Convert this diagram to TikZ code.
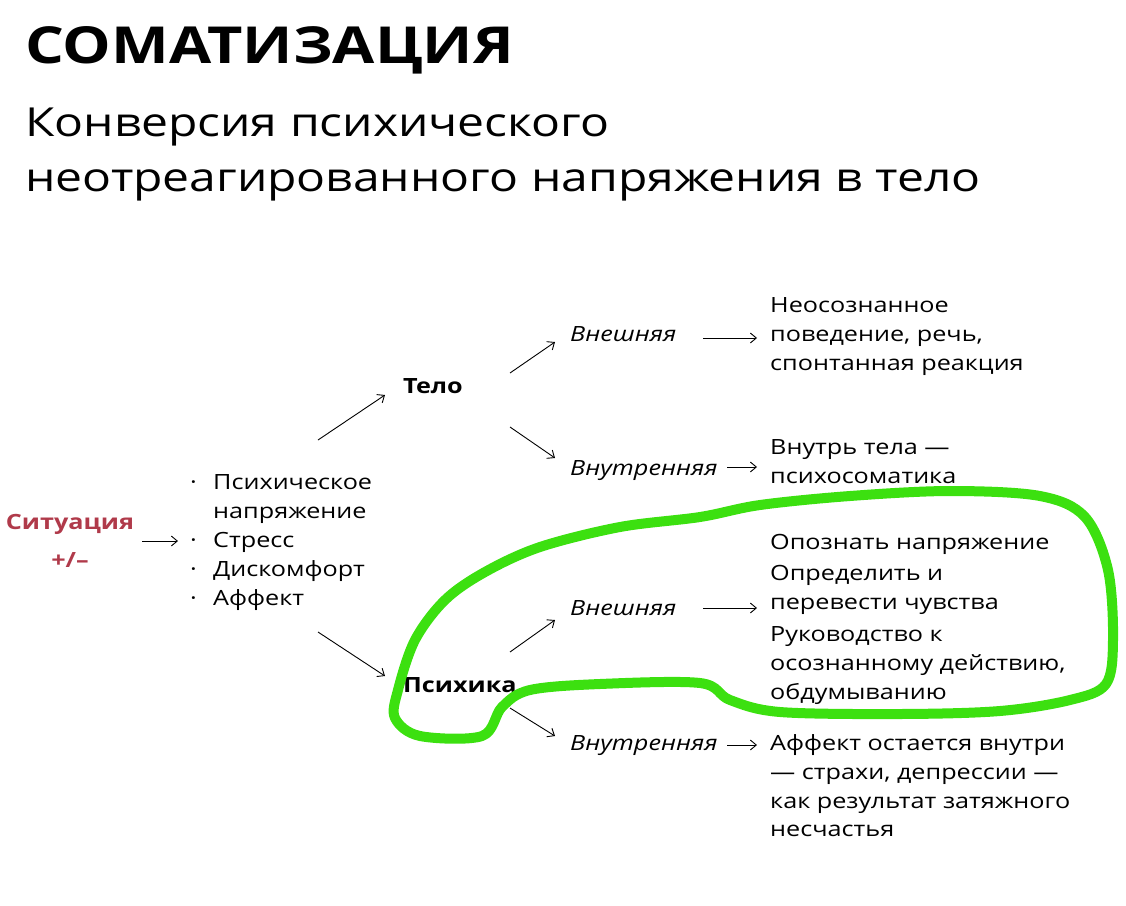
\documentclass[tikz,border=0pt]{standalone}
\usepackage{fontspec}
\setmainfont{Open Sans}[FakeStretch=1.2]
\usetikzlibrary{arrows.meta}
\definecolor{sitred}{HTML}{B03A4A}
\definecolor{blob}{HTML}{3CE010}
\tikzset{
  txt/.style={anchor=base west, inner sep=0pt, font=\fontsize{21}{29}\selectfont},
  hd/.style={txt, font=\fontsize{21}{29}\selectfont\bfseries},
  br/.style={txt, font=\fontsize{21}{29}\selectfont\itshape},
  arr/.style={-{Straight Barb[length=6pt,width=10pt]}, line width=0.9pt},
}
\begin{document}
\begin{tikzpicture}[x=1pt,y=-1pt]
  \useasboundingbox (0,0) rectangle (1126,905);
  \node[anchor=base west, inner sep=0pt, font=\fontsize{51}{60}\selectfont\bfseries] (title) at (25,63) {СОМАТИЗАЦИЯ};%
  \node[anchor=base west, inner sep=0pt, font=\fontsize{40}{56}\selectfont] (sub1) at (25,136) {Конверсия психического};%
  \node[anchor=base west, inner sep=0pt, font=\fontsize{40}{56}\selectfont] (sub2) at (25,191) {неотреагированного напряжения в тело};%
  % situation
  \node[hd, anchor=base, text=sitred] (sit) at (70,529) {Ситуация};%
  \node[hd, anchor=base, text=sitred] (pm) at (70,567) {+/–};%
  \coordinate (s1) at (142,541); \coordinate (s2) at (178,541);
  \draw[arr] (s1) -- (s2);%
  % list
  \foreach \y/\t in {489/{Психическое},547/{Стресс},576/{Дискомфорт},605/{Аффект}}{
    \node[txt] at (190,\y) {·};
    \node[txt] at (213,\y) {\t};}
  \node[txt] (nap) at (213,518) {напряжение};%
  % body / psyche
  \node[hd] (telo) at (403,393) {Тело};%
  \node[hd] (psy) at (403,692) {Психика};%
  \coordinate (a1) at (318,440); \coordinate (a2) at (385,395);
  \coordinate (b1) at (318,632); \coordinate (b2) at (385,676);
  \draw[arr] (a1) -- (a2); \draw[arr] (b1) -- (b2);%
  % branches
  \node[br] (tv) at (570,341) {Внешняя};%
  \node[br] (tn) at (570,475) {Внутренняя};%
  \node[br] (pv) at (570,615) {Внешняя};%
  \node[br] (pn) at (570,750) {Внутренняя};%
  \coordinate (c1) at (510,373); \coordinate (c2) at (555,342);
  \coordinate (d1) at (510,427); \coordinate (d2) at (555,458);
  \coordinate (e1) at (510,652); \coordinate (e2) at (555,620);
  \coordinate (f1) at (510,708); \coordinate (f2) at (555,736);
  \draw[arr] (c1) -- (c2); \draw[arr] (d1) -- (d2);%
  \draw[arr] (e1) -- (e2); \draw[arr] (f1) -- (f2);%
  \coordinate (g1) at (703,338); \coordinate (g2) at (757,338);
  \coordinate (h1) at (727,467); \coordinate (h2) at (757,467);
  \coordinate (i1) at (703,608); \coordinate (i2) at (757,608);
  \coordinate (j1) at (727,745); \coordinate (j2) at (757,745);
  \draw[arr] (g1) -- (g2); \draw[arr] (h1) -- (h2);%
  \draw[arr] (i1) -- (i2); \draw[arr] (j1) -- (j2);%
  % results
  \foreach \y/\t in {312/{Неосознанное},341/{поведение, речь,},370/{спонтанная реакция},
                     454/{Внутрь тела —},483/{психосоматика},
                     549/{Опознать напряжение},580/{Определить и},609/{перевести чувства},
                     641/{Руководство к},670/{осознанному действию,},699/{обдумыванию},
                     750/{Аффект остается внутри},779/{— страхи, депрессии —},808/{как результат затяжного},836/{несчастья}}
    \node[txt] at (770,\y) {\t};
  % green outline
  \draw[blob, line width=10pt, line cap=round, line join=round] plot[smooth cycle, tension=0.55] coordinates {
    (398,690) (415,640) (445,600) (485,572) (540,547) (620,527) (700,517) (760,505) (850,496)
    (950,491) (1040,496) (1085,517) (1108,570) (1113,640) (1106,684) (1070,700) (1000,711)
    (900,714) (780,712) (730,700) (700,683) (600,684) (530,690) (502,707) (482,736) (420,736) (395,718)};
\end{tikzpicture}
\end{document}
